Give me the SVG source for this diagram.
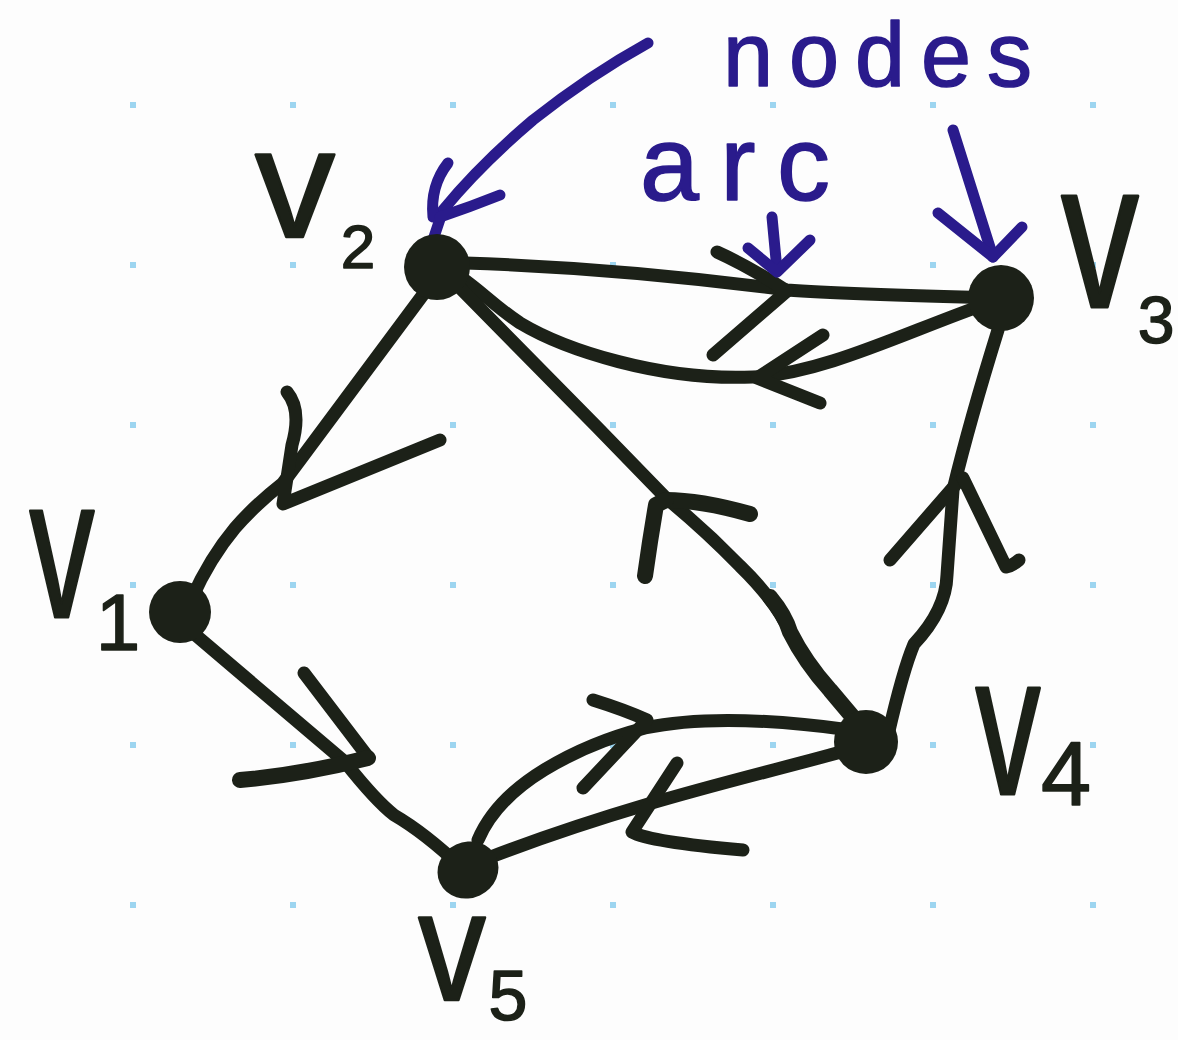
<svg xmlns="http://www.w3.org/2000/svg" width="1178" height="1040" viewBox="0 0 1178 1040">
<defs>
<style>
.dot{fill:#9dd5f0}
.edge{fill:none;stroke:#1c2118;stroke-width:13;stroke-linecap:round;stroke-linejoin:round}
.thick{stroke-width:16}
.node{fill:#1c2118}
.ann{fill:none;stroke:#2a1b8c;stroke-width:11;stroke-linecap:round;stroke-linejoin:round}
.anntxt{fill:#2a1b8c;stroke:#2a1b8c;stroke-width:1.5;stroke-linejoin:round;font-family:"Liberation Sans",Arial,sans-serif}
.lbl{fill:#1c2118;stroke:#1c2118;stroke-width:1.5;stroke-linejoin:round;font-family:"Liberation Sans",Arial,sans-serif;text-anchor:middle}
</style>
<pattern id="grid" x="130" y="102" width="160" height="160" patternUnits="userSpaceOnUse">
<rect x="0" y="0" width="6" height="6" class="dot"/>
</pattern>
</defs>
<rect width="1178" height="1040" fill="#fdfdfd"/>
<rect x="120" y="95" width="990" height="830" fill="url(#grid)"/>

<g id="connectors">
<!-- v2 -> v3 -->
<path class="edge" d="M465,263 Q620,268 787,290 Q840,294 1000,298"/>
<path class="edge" d="M717,252 Q748,266 787,291 L713,355"/>
<!-- v3 -> v2 -->
<path class="edge" d="M975,308 C900,335 820,374 753,377 C660,381 565,350 520,323 C497,308 482,292 462,278"/>
<path class="edge" d="M823,335 L757,378 L820,403"/>
<!-- v2 -> v1 -->
<path class="edge" d="M425,292 L283,483 Q255,505 235,528 Q210,558 192,598"/>
<path class="edge" d="M287,392 Q302,410 292,445 L283,504 L440,440"/>
<!-- v1 -> v5 -->
<path class="edge" d="M192,632 L345,762 Q375,800 394,815 Q425,833 462,868"/>
<path class="edge" d="M304,673 L368,757"/>
<path class="edge thick" d="M240,780 Q300,775 368,758"/>
<!-- v5 -> v4 -->
<path class="edge" d="M478,840 Q495,800 544,770 Q590,742 645,728 Q720,712 850,730"/>
<path class="edge" d="M593,700 Q625,710 647,720 L583,788"/>
<!-- v4 -> v5 -->
<path class="edge" d="M848,750 C760,775 640,800 488,858"/>
<path class="edge" d="M677,763 L632,832 Q650,842 743,850"/>
<!-- v4 -> v2 -->
<path class="edge" d="M460,288 L597,427 L666,498 Q705,530 740,566 Q775,600 790,632 Q805,662 830,690 L862,728"/>
<path class="edge thick" d="M770,597 Q785,615 790,632 Q805,662 830,690 L862,728"/>
<path class="edge thick" d="M750,514 Q700,500 666,500"/>
<path class="edge thick" d="M645,576 Q650,540 656,505 L666,500"/>
<!-- v4 -> v3 -->
<path class="edge" d="M888,735 Q903,670 914,644 Q946,610 947,575 L953,490 Q970,420 998,330"/>
<path class="edge" d="M890,560 L957,483"/>
<path class="edge" d="M963,478 L1006,567 Q1012,566 1019,560"/>
</g>

<g id="annotations">
<path class="ann" d="M648,43 Q590,75 533,120 Q480,165 443,210 L433,240"/>
<path class="ann" d="M448,163 Q430,186 433,217"/>
<path class="ann" d="M500,195 Q470,207 440,217"/>
<text class="anntxt" x="723" y="86" font-size="90" textLength="309" lengthAdjust="spacing">nodes</text>
<text class="anntxt" x="640" y="200" font-size="106" textLength="190" lengthAdjust="spacing">arc</text>
<path class="ann" d="M772,217 L777,270"/>
<path class="ann" d="M748,248 L777,272 L810,240"/>
<path class="ann" d="M953,130 L993,257"/>
<path class="ann" d="M938,213 L993,257 L1022,227"/>
</g>

<g id="v1">
<circle class="node" cx="180" cy="612" r="31"/>
<text class="lbl" font-size="100" transform="translate(62,617) scale(1.3,2)">v</text>
<text class="lbl" x="118" y="650" font-size="80">1</text>
</g>
<g id="v2">
<circle class="node" cx="437" cy="267" r="33"/>
<text class="lbl" font-size="100" transform="translate(295,237) scale(1.6,1.55)">v</text>
<text class="lbl" x="358" y="268" font-size="62">2</text>
</g>
<g id="v3">
<circle class="node" cx="1001" cy="298" r="33"/>
<text class="lbl" font-size="100" transform="translate(1100,307) scale(1.55,2.1)">v</text>
<text class="lbl" x="1156" y="343" font-size="66">3</text>
</g>
<g id="v4">
<circle class="node" cx="866" cy="742" r="32"/>
<text class="lbl" font-size="100" transform="translate(1008,794) scale(1.3,2)">v</text>
<text class="lbl" x="1066" y="805" font-size="90">4</text>
</g>
<g id="v5">
<ellipse class="node" cx="468" cy="870" rx="31" ry="28" transform="rotate(-25 468 870)"/>
<text class="lbl" font-size="100" transform="translate(452,1000) scale(1.35,1.55)">v</text>
<text class="lbl" x="508" y="1020" font-size="70">5</text>
</g>
</svg>
